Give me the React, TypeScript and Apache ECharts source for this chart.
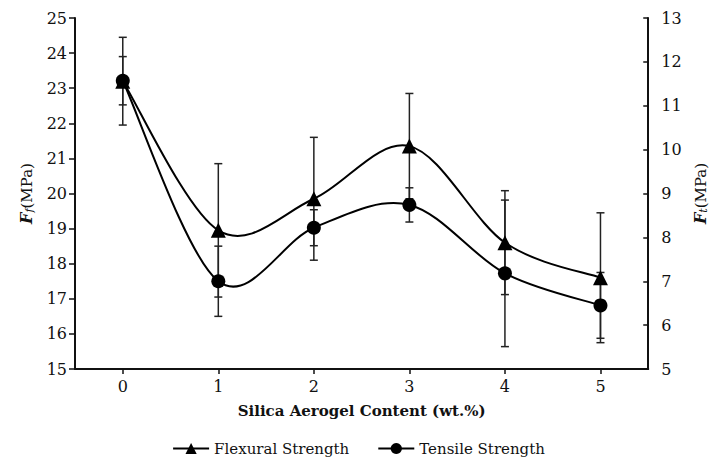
import React, { useEffect, useRef } from "react";
import * as echarts from "echarts";

const categories = ["0", "1", "2", "3", "4", "5"];
const flexural = [23.2, 18.95, 19.85, 21.35, 18.6, 17.6];
const flexuralErr = [1.25, 1.9, 1.75, 1.5, 1.48, 1.85];
const tensile = [11.57, 7.0, 8.22, 8.74, 7.18, 6.45];
const tensileErr = [0.55, 0.8, 0.41, 0.39, 1.67, 0.75];
const leftTicks = { min: 15, max: 25, interval: 1 };
const rightTicks = { min: 5, max: 13, interval: 1 };

const FONT = "DejaVu Serif";

function errorRender(params: any, api: any) {
  const x = api.value(0);
  const lo = api.coord([x, api.value(1)]);
  const hi = api.coord([x, api.value(2)]);
  const w = 4;
  const style = { stroke: "#222", lineWidth: 1.5 };
  return {
    type: "group",
    children: [
      { type: "line", shape: { x1: lo[0], y1: lo[1], x2: hi[0], y2: hi[1] }, style },
      { type: "line", shape: { x1: lo[0] - w, y1: lo[1], x2: lo[0] + w, y2: lo[1] }, style },
      { type: "line", shape: { x1: hi[0] - w, y1: hi[1], x2: hi[0] + w, y2: hi[1] }, style },
    ],
  };
}

// Catmull-Rom style smoothing (like spreadsheet smoothed lines), one segment per item
function curveRender(values: number[]) {
  return (params: any, api: any) => {
    const i = params.dataIndex;
    const n = values.length;
    if (i >= n - 1) return { type: "group", children: [] };
    const p = (k: number) => {
      const kk = Math.max(0, Math.min(n - 1, k));
      return api.coord([kk, values[kk]]);
    };
    const p0 = p(i - 1);
    const p1 = p(i);
    const p2 = p(i + 1);
    const p3 = p(i + 2);
    const t = 1 / 6;
    const c1x = p1[0] + (p2[0] - p0[0]) * t;
    const c1y = p1[1] + (p2[1] - p0[1]) * t;
    const c2x = p2[0] - (p3[0] - p1[0]) * t;
    const c2y = p2[1] - (p3[1] - p1[1]) * t;
    return {
      type: "bezierCurve",
      shape: { x1: p1[0], y1: p1[1], x2: p2[0], y2: p2[1], cpx1: c1x, cpy1: c1y, cpx2: c2x, cpy2: c2y },
      style: { stroke: "#000", lineWidth: 2, fill: "none" },
    };
  };
}

export default function App() {
  const ref = useRef<HTMLDivElement>(null);
  useEffect(() => {
    if (!ref.current) return;
    const chart = echarts.init(ref.current, null, { renderer: "svg" });
    const axisLine = { show: true, lineStyle: { color: "#111", width: 2 } };
    const nameRich = {
      i: { fontFamily: FONT, fontStyle: "italic", fontWeight: "bold", fontSize: 16, color: "#111" },
      sub: { fontFamily: FONT, fontStyle: "italic", fontSize: 11, color: "#111", verticalAlign: "bottom", padding: [6, 0, 0, 0] },
      n: { fontFamily: FONT, fontSize: 15, color: "#111" },
    };
    chart.setOption({
      animation: false,
      backgroundColor: "#fff",
      textStyle: { fontFamily: FONT },
      grid: { left: 75, right: 58, top: 18, bottom: 101, containLabel: false },
      legend: {
        top: 436,
        left: "center",
        data: ["Flexural Strength", "Tensile Strength"],
        itemWidth: 36,
        itemHeight: 14,
        itemGap: 28,
        lineStyle: { color: "#000", width: 2, opacity: 1, type: "solid" },
        textStyle: { fontFamily: FONT, fontSize: 15, color: "#111" },
      },
      xAxis: {
        type: "category",
        data: categories,
        boundaryGap: true,
        name: "Silica Aerogel Content (wt.%)",
        nameLocation: "middle",
        nameGap: 34,
        nameTextStyle: { fontFamily: FONT, fontWeight: "bold", fontSize: 15, color: "#111" },
        axisLine,
        axisTick: { show: true, alignWithLabel: true, length: 5, lineStyle: { color: "#111", width: 1.5 } },
        axisLabel: { fontFamily: FONT, fontSize: 16, color: "#111", margin: 9 },
        splitLine: { show: false },
      },
      yAxis: [
        {
          type: "value",
          ...leftTicks,
          position: "left",
          name: "{i|F}{sub|f}{n|(MPa)}",
          nameLocation: "middle",
          nameGap: 40,
          nameTextStyle: { rich: nameRich },
          axisLine,
          axisTick: { show: true, length: 6, lineStyle: { color: "#111", width: 1.5 } },
          axisLabel: { fontFamily: FONT, fontSize: 16, color: "#111", margin: 8 },
          splitLine: { show: false },
        },
        {
          type: "value",
          ...rightTicks,
          position: "right",
          name: "{i|F}{sub|t}{n|(MPa)}",
          nameLocation: "middle",
          nameGap: 26,
          nameRotate: 90,
          nameTextStyle: { rich: nameRich },
          axisLine,
          axisTick: { show: true, inside: true, length: 5, lineStyle: { color: "#111", width: 1.5 } },
          axisLabel: { fontFamily: FONT, fontSize: 16, color: "#111", margin: 13 },
          splitLine: { show: false },
        },
      ],
      series: [
        {
          type: "custom",
          name: "flexErr",
          yAxisIndex: 0,
          renderItem: errorRender,
          encode: { x: 0, y: [1, 2] },
          data: flexural.map((v, i) => [i, v - flexuralErr[i], v + flexuralErr[i]]),
          z: 1,
          silent: true,
        },
        {
          type: "custom",
          name: "tensErr",
          yAxisIndex: 1,
          renderItem: errorRender,
          encode: { x: 0, y: [1, 2] },
          data: tensile.map((v, i) => [i, v - tensileErr[i], v + tensileErr[i]]),
          z: 1,
          silent: true,
        },
        {
          type: "custom",
          name: "flexCurve",
          yAxisIndex: 0,
          renderItem: curveRender(flexural),
          encode: { x: 0, y: 1 },
          data: flexural.map((v, i) => [i, v]),
          z: 2,
          silent: true,
        },
        {
          type: "custom",
          name: "tensCurve",
          yAxisIndex: 1,
          renderItem: curveRender(tensile),
          encode: { x: 0, y: 1 },
          data: tensile.map((v, i) => [i, v]),
          z: 2,
          silent: true,
        },
        {
          type: "line",
          name: "Flexural Strength",
          yAxisIndex: 0,
          data: flexural,
          symbol: "triangle",
          symbolSize: 15,
          lineStyle: { color: "#000", width: 2, opacity: 0 },
          itemStyle: { color: "#000" },
          z: 3,
        },
        {
          type: "line",
          name: "Tensile Strength",
          yAxisIndex: 1,
          data: tensile,
          symbol: "circle",
          symbolSize: 14,
          lineStyle: { color: "#000", width: 2, opacity: 0 },
          itemStyle: { color: "#000" },
          z: 3,
        },
      ],
    });
    return () => chart.dispose();
  }, []);
  return <div ref={ref} style={{ width: 717, height: 470, margin: -8 }} />;
}
